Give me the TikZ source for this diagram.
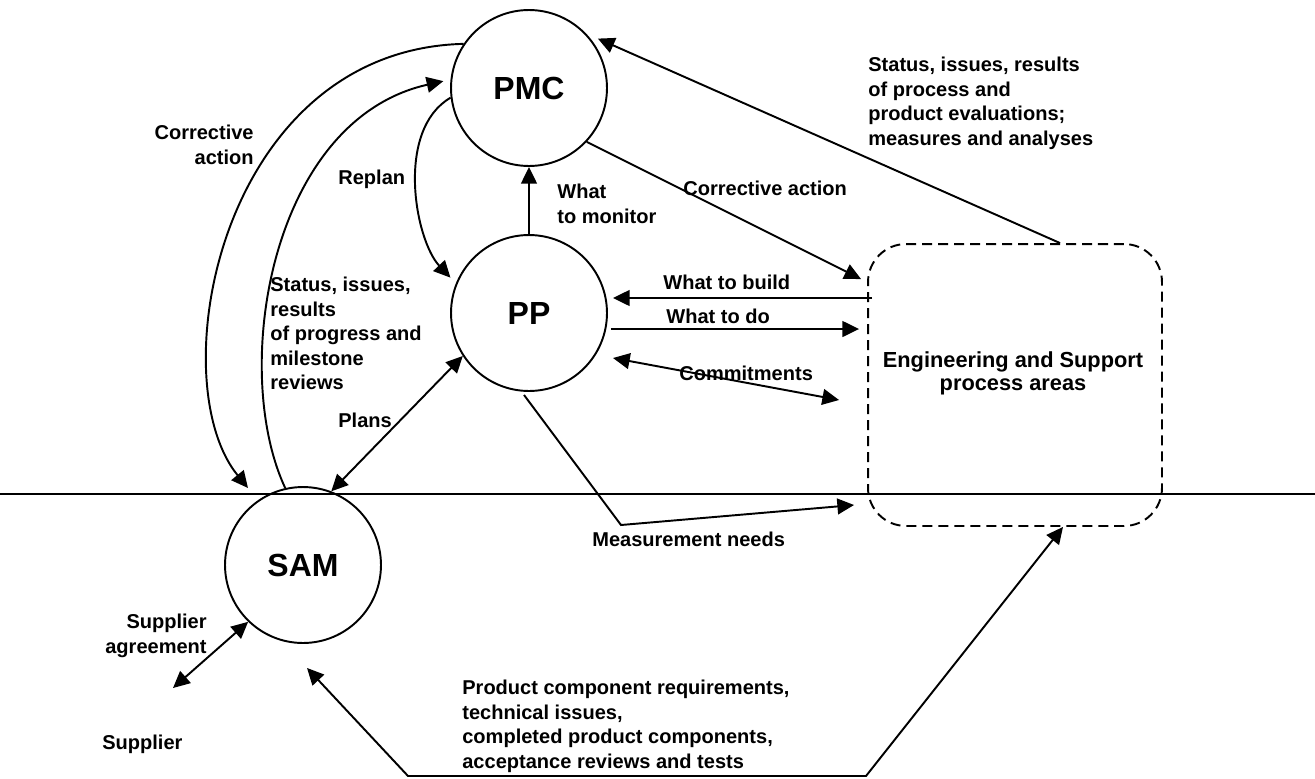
\documentclass[tikz,border=0pt]{standalone}
\usepackage{fontspec}
\setmainfont{Liberation Sans}
\usetikzlibrary{arrows.meta,calc}
\begin{document}
\begin{tikzpicture}[x=0.02cm,y=-0.02cm,
  proc/.style={draw,circle,minimum size=3.12cm,inner sep=0pt,line width=1.1pt,
    font=\fontsize{18.2}{20}\selectfont\bfseries},
  lbl/.style={inner sep=0pt,font=\fontsize{11.4}{13.9}\selectfont\bfseries},
  arealbl/.style={inner sep=0pt,align=center,font=\fontsize{12.4}{13.2}\selectfont\bfseries},
  area/.style={draw,line width=1.1pt,dash pattern=on 5.7pt off 3.4pt,rounded corners=0.76cm,
    minimum width=5.88cm,minimum height=5.64cm,inner sep=0pt},
  tip/.tip={Triangle[length=9.5pt,width=9pt]},
  conn/.style={line width=1.1pt,-tip},
  biconn/.style={line width=1.1pt,tip-tip},
  wire/.style={line width=1.1pt}
]
\useasboundingbox (0,0) rectangle (1315,778);

% process areas
\node[proc] (PMC) at (529,88) {PMC};
\node[proc] (PP) at (529,313) {PP};
\node[proc] (SAM) at (303,565) {SAM};
\node[area] (eng) at (1015,385) {};
\node[arealbl] (engtext) at (1013,373) {Engineering and Support\\process areas};

% boundary between project and supplier
\draw[wire] (0,494) -- (1315,494);

% free ends and bends
\coordinate (caEnd) at (248,488);
\coordinate (supl) at (173,688);
\coordinate (mbend) at (621,525);
\coordinate (pbendL) at (408,776);
\coordinate (pbendR) at (866,776);

% PP -> PMC
\draw[conn] (PP.north) -- (PMC.south);
% PMC -> engineering
\draw[conn] (PMC.-43) -- ($(eng.north west)+(-6,36)$);
% engineering -> PMC
\draw[conn] ($(eng.north)+(45,0)$) -- ($(PMC.36)+(5,-3)$);
% engineering <-> PP
\draw[conn] ($(eng.west)+(5,-87)$) -- ($(PP.east)+(5,-15)$);
\draw[conn] ($(PP.east)+(3,16)$) -- ($(eng.west)+(-8,-56)$);
\draw[biconn] ($(PP.center)+(84,45)$) -- ($(eng.west)+(-28,15)$);
\draw[conn] ($(PP.south)+(-5,3)$) -- (mbend) -- ($(eng.west)+(-13,120)$);
% PP <-> SAM
\draw[biconn] (PP.213) -- (SAM.69);
% PMC <-> SAM curves
\draw[conn] (PMC.146) .. controls (220,50) and (160,380) .. (caEnd);
\draw[conn] (SAM.103) .. controls (230,370) and (270,120) .. ($(PMC.175)+(-7,0)$);
% PMC -> PP replan
\draw[conn] (PMC.187) .. controls (395,130) and (415,240) .. ($(PP.155)+(-7,-2)$);
% SAM <-> supplier
\draw[biconn] (SAM.226) -- (supl);
% SAM <-> engineering
\draw[biconn] ($(SAM.south)+(4,24)$) -- (pbendL) -- (pbendR) -- ($(eng.south)+(48,0)$);

% labels
\node[lbl,anchor=north east,align=right] (lca) at (254,125) {Corrective\\action};
\node[lbl,anchor=base west] (lrp) at (338,184) {Replan};
\node[lbl,anchor=north west,align=left] (lwm) at (557,184) {What\\to monitor};
\node[lbl,anchor=base west] (lca2) at (683,195) {Corrective action};
\node[lbl,anchor=north west,align=left] (lst) at (868,57)
  {Status, issues, results\\of process and\\product evaluations;\\measures and analyses};
\node[lbl,anchor=base west] (lwb) at (663,289) {What to build};
\node[lbl,anchor=base west] (lwd) at (666,323) {What to do};
\node[lbl,anchor=base west] (lcm) at (679,380) {Commitments};
\node[lbl,anchor=north west,align=left] (lsp) at (270,277)
  {Status, issues,\\results\\of progress and\\milestone\\reviews};
\node[lbl,anchor=base west] (lpl) at (338,427) {Plans};
\node[lbl,anchor=base west] (lmn) at (592,546) {Measurement needs};
\node[lbl,anchor=north east,align=right] (lsa) at (207,614) {Supplier\\agreement};
\node[lbl,anchor=base west] (lsu) at (102,749) {Supplier};
\node[lbl,anchor=north west,align=left] (lpc) at (462,680)
  {Product component requirements,\\technical issues,\\completed product components,\\acceptance reviews and tests};
\end{tikzpicture}
\end{document}
